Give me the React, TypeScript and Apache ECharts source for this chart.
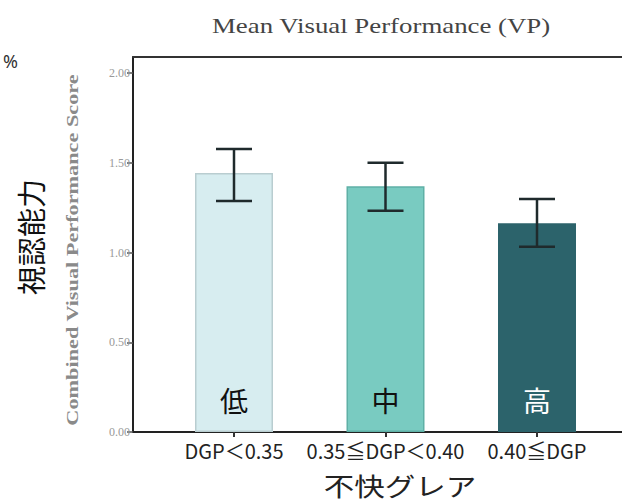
import React, { useEffect, useRef } from "react";
import * as echarts from "echarts";

const categories = ["DGP＜0.35", "0.35≦DGP＜0.40", "0.40≦DGP"];
const levelLabels = ["低", "中", "高"];
const means = [1.443, 1.37, 1.164];
const errLow = [1.287, 1.233, 1.032];
const errHigh = [1.577, 1.5, 1.298];
const yTicks = [0, 0.5, 1.0, 1.5, 2.0];

const barFills = ["#d7edf0", "#79cbc1", "#2c636b"];
const barBorders = ["#b9cdd0", "#5fb0a6", "#2c636b"];
const labelColors = ["#111", "#111", "#fff"];

export default function App() {
  const ref = useRef<HTMLDivElement>(null);
  useEffect(() => {
    if (!ref.current) return;
    const chart = echarts.init(ref.current, undefined, { renderer: "svg" });
    const yMax = 2.09;
    const option: any = {
      animation: false,
      backgroundColor: "#fff",
      grid: [
        { left: 133, right: 0, top: 57, bottom: 72 },
        { left: 158.25, right: 9.25, top: 57, bottom: 72 },
      ],
      xAxis: [
        {
          type: "value", gridIndex: 0, position: "bottom", min: 0, max: 1,
          axisLine: { show: true, lineStyle: { color: "#222", width: 2 } },
          axisTick: { show: false }, axisLabel: { show: false }, splitLine: { show: false },
        },
        {
          type: "value", gridIndex: 0, position: "top", min: 0, max: 1,
          axisLine: { show: true, lineStyle: { color: "#333", width: 2 } },
          axisTick: { show: false }, axisLabel: { show: false }, splitLine: { show: false },
        },
        {
          type: "category", gridIndex: 1, data: categories,
          axisLine: { show: false },
          axisTick: { show: true, alignWithLabel: true, length: 5, lineStyle: { color: "#333", width: 2 } },
          axisLabel: {
            interval: 0, color: "#222", fontSize: 20, margin: 8,
            fontFamily: "'Noto Sans CJK JP', sans-serif",
          },
        },
      ],
      yAxis: [
        {
          type: "value", gridIndex: 0, min: 0, max: yMax, interval: 0.5,
          axisLine: { show: true, lineStyle: { color: "#222", width: 2 } },
          axisTick: { show: true, length: 6, lineStyle: { color: "#555", width: 1.5 } },
          axisLabel: {
            color: "#999", fontSize: 12, margin: 3, showMaxLabel: false,
            fontFamily: "'Liberation Serif', serif",
            formatter: (v: number) => (yTicks.some((t) => Math.abs(t - v) < 1e-6) ? v.toFixed(2) : ""),
          },
          splitLine: { show: false },
        },
        {
          type: "value", gridIndex: 1, min: 0, max: yMax, show: false,
        },
      ],
      series: [
        {
          type: "bar", xAxisIndex: 2, yAxisIndex: 1, barWidth: 78,
          data: means.map((v, i) => ({
            value: v,
            itemStyle: { color: barFills[i], borderColor: barBorders[i], borderWidth: 1.5 },
            label: {
              show: true, position: "insideBottom", distance: 18,
              formatter: levelLabels[i], color: labelColors[i], fontSize: 28,
              fontFamily: "'Noto Sans CJK JP', sans-serif",
            },
          })),
        },
        {
          type: "custom", xAxisIndex: 2, yAxisIndex: 1,
          data: categories.map((_, i) => [i, errLow[i], errHigh[i]]),
          renderItem: (params: any, api: any) => {
            const x = api.value(0);
            const lo = api.coord([x, api.value(1)]);
            const hi = api.coord([x, api.value(2)]);
            const hw = 18;
            const style = { stroke: "#1f2a2c", lineWidth: 2.5 };
            return {
              type: "group",
              children: [
                { type: "line", shape: { x1: lo[0], y1: lo[1], x2: hi[0], y2: hi[1] }, style },
                { type: "line", shape: { x1: hi[0] - hw, y1: hi[1], x2: hi[0] + hw, y2: hi[1] }, style },
                { type: "line", shape: { x1: lo[0] - hw, y1: lo[1], x2: lo[0] + hw, y2: lo[1] }, style },
              ],
            };
          },
          z: 5,
        },
      ],
      graphic: [
        {
          type: "text", x: 212, y: 25, scaleX: 1.22,
          style: {
            text: "Mean Visual Performance (VP)", fontSize: 22, fill: "#444",
            fontFamily: "'Liberation Serif', serif", align: "left", verticalAlign: "middle",
          },
        },
        {
          type: "text", x: 3, y: 61,
          style: {
            text: "%", fontSize: 18, fill: "#333", fontFamily: "'Noto Sans', sans-serif",
            align: "left", verticalAlign: "middle",
          },
        },
        {
          type: "text", x: 72, y: 250, rotation: Math.PI / 2, scaleX: 1.31,
          style: {
            text: "Combined Visual Performance Score", fontSize: 17, fontWeight: "bold", fill: "#8a8a8a",
            fontFamily: "'Liberation Serif', serif", align: "center", verticalAlign: "middle",
          },
        },
        {
          type: "text", x: 30, y: 237, rotation: Math.PI / 2,
          style: {
            text: "視認能力", fontSize: 29, fill: "#111",
            fontFamily: "'Noto Sans CJK JP', sans-serif", align: "center", verticalAlign: "middle",
          },
        },
        {
          type: "text", x: 400, y: 485, scaleX: 1.22,
          style: {
            text: "不快グレア", fontSize: 25, fill: "#222",
            fontFamily: "'Noto Sans CJK JP', sans-serif", align: "center", verticalAlign: "middle",
          },
        },
      ],
    };
    chart.setOption(option);
    return () => chart.dispose();
  }, []);
  return <div ref={ref} style={{ position: "fixed", left: 0, top: 0, width: 622, height: 504 }} />;
}
